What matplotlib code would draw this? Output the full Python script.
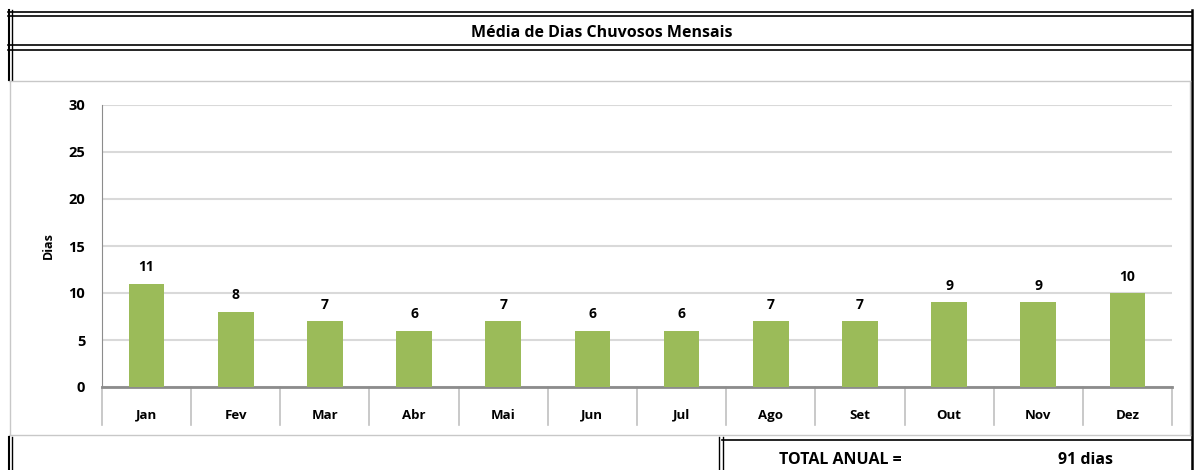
import matplotlib.pyplot as plt
from matplotlib.lines import Line2D

meses = ['Jan', 'Fev', 'Mar', 'Abr', 'Mai', 'Jun', 'Jul', 'Ago', 'Set', 'Out', 'Nov', 'Dez']
dias_chuvosos = [11, 8, 7, 6, 7, 6, 6, 7, 7, 9, 9, 10]
total_anual = 91
titulo = 'Média de Dias Chuvosos Mensais'

W, H = 1195, 470
plt.rcParams['font.family'] = ['Open Sans', 'DejaVu Sans']

fig = plt.figure(figsize=(W / 100, H / 100), dpi=100)


def px(x, y):
    # pixel (origem no topo esquerdo) -> fração da figura
    return x / W, 1 - y / H


def hline(y, x0, x1, lw=1.0, color='black'):
    (a, b), (c, d) = px(x0, y), px(x1, y)
    fig.add_artist(Line2D([a, c], [b, d], lw=lw, color=color, transform=fig.transFigure))


def vline(x, y0, y1, lw=1.0, color='black'):
    (a, b), (c, d) = px(x, y0), px(x, y1)
    fig.add_artist(Line2D([a, c], [b, d], lw=lw, color=color, transform=fig.transFigure))


# moldura estilo planilha
for y in (11.5, 15.5, 45, 49.5):
    hline(y, 8, 1192, lw=1.2)
vline(8.5, 10, 80, lw=1.5)
vline(11.5, 10, 80, lw=1.0)
vline(1191.5, 10, 470, lw=1.8)
fig.text(*px(602, 33), titulo, ha='center', va='center', fontsize=11.5, fontweight='bold')

# area do gráfico
hline(81, 9, 1190, lw=1.0, color='#c8c8c8')
vline(9.5, 81, 435, lw=1.0, color='#c8c8c8')
vline(1189.5, 81, 435, lw=1.0, color='#c8c8c8')
hline(434.5, 9, 1190, lw=1.0, color='#c8c8c8')

# rodapé
vline(8.5, 437, 470, lw=1.5)
vline(11.5, 437, 470, lw=1.0)
vline(718.5, 437, 470, lw=1.0)
vline(722.5, 437, 470, lw=1.0)
hline(440, 722, 1192, lw=1.2)
fig.text(*px(840, 460), 'TOTAL ANUAL =', ha='center', va='center', fontsize=11.5, fontweight='bold')
fig.text(*px(1085, 460), f'{total_anual} dias', ha='center', va='center', fontsize=11.5, fontweight='bold')

# eixo principal
l, b = px(102, 387)
r, t = px(1172, 105)
ax = fig.add_axes([l, b, r - l, t - b])
x = range(len(meses))
ax.bar(x, dias_chuvosos, width=0.4, color='#9bbb59', zorder=3)
for xi, v in zip(x, dias_chuvosos):
    ax.text(xi, v + 1.0, str(v), ha='center', va='bottom', fontsize=10, fontweight='bold')

ax.set_xlim(-0.5, len(meses) - 0.5)
ax.set_ylim(0, 30)
ax.set_yticks(range(0, 31, 5))
ax.yaxis.grid(True, color='#d9d9d9', lw=1.5, zorder=0)
ax.set_xticks([])
for s in ('top', 'right'):
    ax.spines[s].set_visible(False)
ax.spines['left'].set_color('#8c8c8c')
ax.spines['bottom'].set_color('#8c8c8c')
ax.spines['bottom'].set_linewidth(2)
ax.tick_params(axis='y', length=0, pad=12, labelsize=10.5)
for lab in ax.get_yticklabels():
    lab.set_fontweight('bold')
ax.set_ylabel('Dias', fontsize=9, fontweight='bold', labelpad=10)

# separadores e rótulos de categoria
for i in range(len(meses) + 1):
    ax.plot([i - 0.5, i - 0.5], [0, -4], color='#c0c0c0', lw=1.2, clip_on=False)
for xi, m in zip(x, meses):
    ax.text(xi, -3.0, m, ha='center', va='center', fontsize=9.5, fontweight='bold')

fig.savefig('out.png', dpi=100)
